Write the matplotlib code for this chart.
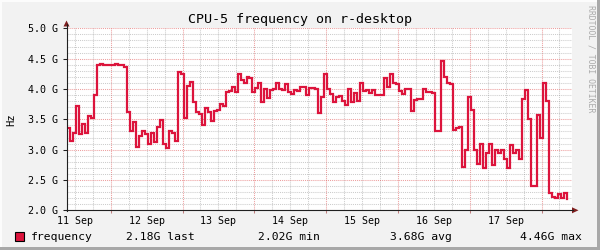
import numpy as np
import matplotlib
matplotlib.use("Agg")
import matplotlib.pyplot as plt
from matplotlib.patches import Rectangle, Polygon
from matplotlib.lines import Line2D
from matplotlib.ticker import FuncFormatter, MultipleLocator
import matplotlib.transforms as mtransforms

# ---------------- data ----------------
title = "CPU-5 frequency on r-desktop"
y_label = "Hz"
series_name = "frequency"
# hourly samples (GHz), first sample at 11 Sep ~09:23
start_day = 0.391          # days after 11 Sep 00:00
step_hours = 1.0
freq_ghz = [
    3.36, 3.15, 3.27, 3.72, 3.25, 3.42, 3.27, 3.55, 3.52, 3.90,
    4.40, 4.41, 4.40, 4.39, 4.40, 4.40, 4.41, 4.40, 4.40, 4.37,
    3.62, 3.31, 3.46, 3.05, 3.22, 3.30, 3.25, 3.10, 3.27, 3.13,
    3.37, 3.49, 3.10, 3.02, 3.30, 3.28, 3.15, 4.28, 4.25, 3.52,
    4.05, 4.12, 3.78, 3.62, 3.58, 3.40, 3.68, 3.62, 3.48, 3.63,
    3.66, 3.75, 3.72, 3.95, 3.97, 4.03, 3.95, 4.25, 4.14, 4.10,
    4.20, 4.18, 3.95, 4.02, 4.10, 3.78, 4.00, 3.85, 3.98, 4.00,
    4.10, 4.00, 3.98, 4.08, 3.95, 3.92, 3.98, 3.96, 4.03, 4.03,
    3.90, 4.01, 4.02, 4.00, 3.60, 3.87, 4.25, 4.00, 3.92, 3.78,
    3.87, 3.88, 3.80, 3.73, 4.00, 3.78, 3.93, 3.80, 4.10, 3.97,
    3.98, 3.93, 3.98, 3.90, 3.90, 3.90, 4.18, 4.03, 4.25, 4.10,
    4.08, 3.97, 3.92, 4.00, 4.00, 3.63, 3.82, 3.83, 3.83, 4.00,
    3.95, 3.95, 3.93, 3.30, 3.30, 4.46, 4.20, 4.10, 4.08, 3.32,
    3.35, 3.38, 2.72, 3.00, 3.87, 3.65, 3.00, 2.77, 3.10, 2.70,
    2.95, 3.10, 2.74, 3.00, 2.95, 3.00, 2.85, 2.70, 3.07, 2.95,
    3.00, 2.85, 3.83, 3.98, 3.50, 2.40, 2.40, 3.57, 3.20, 4.10,
    3.80, 2.28, 2.22, 2.20, 2.27, 2.20, 2.28, 2.18,
]
day_labels = ["11 Sep", "12 Sep", "13 Sep", "14 Sep", "15 Sep", "16 Sep", "17 Sep"]
legend_stats = ["2.18G last", "2.02G min", "3.68G avg", "4.46G max"]

# ---------------- layout ----------------
W, H = 600, 250
MONO = "DejaVu Sans Mono"
LINE_COLOR = "#DC143C"

def fx(x):
    return x / W

def fy(y):
    return 1 - y / H

fig = plt.figure(figsize=(6, 2.5), dpi=100, facecolor="#F2F2F2")

L, R, T, B = 66.5, 572.0, 28.3, 210.3
ax = fig.add_axes([fx(L), fy(B), (R - L) / W, (B - T) / H])
ax.set_facecolor("white")
for s in ax.spines.values():
    s.set_visible(False)

t = start_day + np.arange(len(freq_ghz)) * step_hours / 24.0
ax.plot(t, freq_ghz, drawstyle="steps-post", color=LINE_COLOR, lw=1.6,
        solid_joinstyle="miter", zorder=3)

ax.set_xlim(0.384, 0.384 + (R - L) / 71.8)
ax.set_ylim(2.0, 5.0)

ax.yaxis.set_major_locator(MultipleLocator(0.5))
ax.yaxis.set_minor_locator(MultipleLocator(0.1))
ax.xaxis.set_major_locator(MultipleLocator(1.0))
ax.xaxis.set_minor_locator(MultipleLocator(0.25))
ax.yaxis.set_major_formatter(FuncFormatter(lambda v, p: f"{v:.1f} G"))
ax.xaxis.set_major_formatter(FuncFormatter(lambda v, p: ""))

ax.grid(which="minor", color="#8F8F8F", alpha=0.45, lw=0.75, linestyle=(0, (1, 1)))
ax.grid(which="major", color="#DE5050", alpha=0.55, lw=0.75, linestyle=(0, (1, 1)))
ax.set_axisbelow(True)

ax.tick_params(axis="y", which="major", length=3, width=0.75, color="#202020",
               labelsize=7.2, pad=3)
ax.tick_params(axis="y", which="minor", length=0)
ax.tick_params(axis="x", which="major", length=2.5, width=0.75, color="#C08080", pad=1)
ax.tick_params(axis="x", which="minor", length=0)
for lab in ax.get_yticklabels():
    lab.set_fontfamily(MONO)

# day labels at noon
xt = mtransforms.blended_transform_factory(ax.transData, ax.transAxes)
for i, lab in enumerate(day_labels):
    ax.text(i + 0.5, -10.5 / (B - T), lab, transform=xt, ha="center", va="center",
            fontsize=7.2, family=MONO, clip_on=False)

# axes lines and arrows
fig.add_artist(Line2D([fx(L), fx(L)], [fy(B + 1), fy(24)], color="#202020", lw=0.8))
fig.add_artist(Line2D([fx(L - 1), fx(573)], [fy(B), fy(B)], color="#202020", lw=0.8))
fig.add_artist(Polygon([[fx(L), fy(20.5)], [fx(L - 3), fy(26.5)], [fx(L + 3), fy(26.5)]],
                       closed=True, color="#7F1F1F", lw=0))
fig.add_artist(Polygon([[fx(578.5), fy(B)], [fx(572), fy(B - 3)], [fx(572), fy(B + 3)]],
                       closed=True, color="#7F1F1F", lw=0))

# texts
fig.text(0.5, fy(19), title, ha="center", va="center", fontsize=9.6, family=MONO)
fig.text(fx(11), fy((T + B) / 2), y_label, rotation=90, ha="center", va="center",
         fontsize=7.6, family=MONO)
fig.text(fx(591), fy(5), "RRDTOOL / TOBI OETIKER", rotation=-90, ha="center", va="top",
         fontsize=5.9, family=MONO, color="#AAAAAA")

# legend
fig.add_artist(Rectangle((fx(15), fy(240.5)), 8.5 / W, 9 / H, facecolor=LINE_COLOR,
                         edgecolor="black", lw=0.8))
ly = fy(236.5)
fig.text(fx(30.5), ly, series_name, ha="left", va="center", fontsize=8.2, family=MONO)
for xpos, s in zip([126.5, 258.3, 390.0, 520.0], legend_stats):
    fig.text(fx(xpos), ly, s, ha="left", va="center", fontsize=8.2, family=MONO)

# outer shade border
fig.add_artist(Rectangle((0, 0), 1, 3 / H, facecolor="#A8A8A8", lw=0))
fig.add_artist(Rectangle((1 - 3 / W, 0), 3 / W, 1, facecolor="#A8A8A8", lw=0))
fig.add_artist(Rectangle((0, 1 - 2 / H), 1 - 3 / W, 2 / H, facecolor="#FCFCFC", lw=0))
fig.add_artist(Rectangle((0, 3 / H), 2 / W, 1 - 5 / H, facecolor="#FCFCFC", lw=0))

fig.savefig("out.png", dpi=100, facecolor=fig.get_facecolor())
